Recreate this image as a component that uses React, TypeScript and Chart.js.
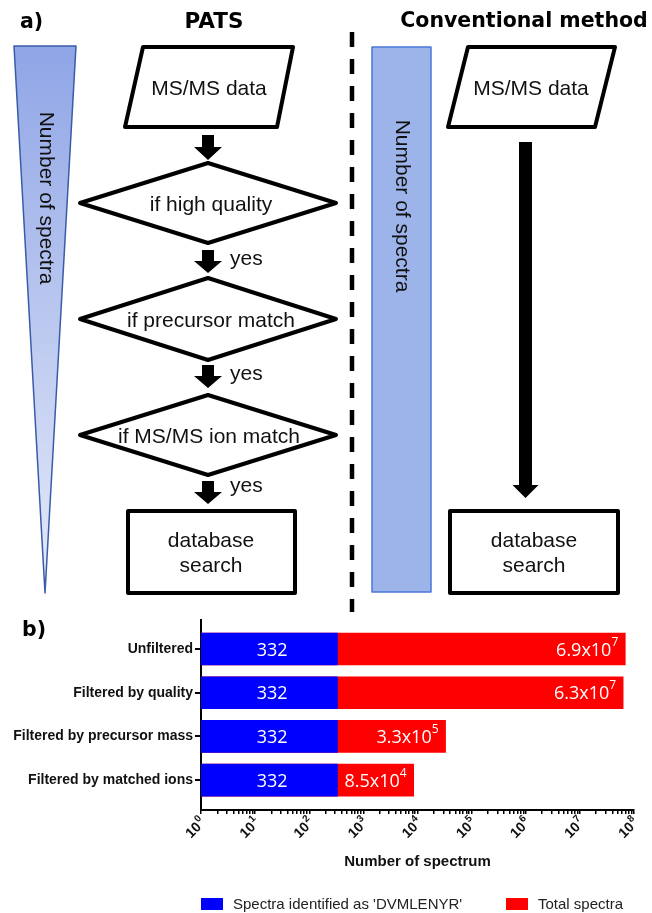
import React, { useEffect, useRef } from 'react';
import { Chart, registerables } from 'chart.js';

Chart.register(...registerables);

// ---------- data ----------
const categories = ['Unfiltered', 'Filtered by quality', 'Filtered by precursor mass', 'Filtered by matched ions'];
const identifiedSpectra = [332, 332, 332, 332];
const totalSpectra = [6.9e7, 6.3e7, 3.3e4, 8.5e3];
const identifiedLabels = ['332', '332', '332', '332'];
const totalMantissa = ['6.9', '6.3', '3.3', '8.5'];
const totalExponent = ['7', '7', '5', '4'];
const decadeExponents = [0, 1, 2, 3, 4, 5, 6, 7, 8];
const seriesNames = ["Spectra identified as 'DVMLENYR'", 'Total spectra'];
const seriesColors = ['#0000FF', '#FF0000'];
const xAxisTitle = 'Number of spectrum';

const SANS = '"Liberation Sans", Arial, sans-serif';
const HEAD = '"DejaVu Sans", sans-serif';
const LABEL = '"Open Sans", sans-serif';

// ---------- flowchart drawing helpers ----------
function poly(ctx: CanvasRenderingContext2D, pts: number[][], lw: number, stroke: string, fill?: string | CanvasGradient) {
  ctx.beginPath();
  ctx.moveTo(pts[0][0], pts[0][1]);
  for (let i = 1; i < pts.length; i++) ctx.lineTo(pts[i][0], pts[i][1]);
  ctx.closePath();
  if (fill) {
    ctx.fillStyle = fill;
    ctx.fill();
  }
  if (lw > 0) {
    ctx.lineWidth = lw;
    ctx.strokeStyle = stroke;
    ctx.stroke();
  }
}

function blockArrow(ctx: CanvasRenderingContext2D, cx: number, top: number, headStart: number, tip: number, shaftW: number, headW: number) {
  poly(ctx, [
    [cx - shaftW / 2, top], [cx + shaftW / 2, top], [cx + shaftW / 2, headStart],
    [cx + headW / 2, headStart], [cx, tip], [cx - headW / 2, headStart], [cx - shaftW / 2, headStart],
  ], 0, '#000', '#000');
}

function text(ctx: CanvasRenderingContext2D, s: string, x: number, y: number, font: string, align: CanvasTextAlign = 'center', color = '#111') {
  ctx.font = font;
  ctx.textAlign = align;
  ctx.textBaseline = 'alphabetic';
  ctx.fillStyle = color;
  ctx.fillText(s, x, y);
}

function rotatedText(ctx: CanvasRenderingContext2D, s: string, cx: number, cy: number, font: string) {
  ctx.save();
  ctx.translate(cx, cy);
  ctx.rotate(Math.PI / 2);
  ctx.font = font;
  ctx.textAlign = 'center';
  ctx.textBaseline = 'middle';
  ctx.fillStyle = '#111';
  ctx.fillText(s, 0, 0);
  ctx.restore();
}

function drawFlowchart(ctx: CanvasRenderingContext2D) {
  ctx.save();
  ctx.lineJoin = 'round';
  const body = `21px ${SANS}`;
  const head = `bold 20.5px ${HEAD}`;

  // panel labels and headers
  text(ctx, 'a)', 20, 28, head, 'left', '#000');
  text(ctx, 'b)', 22, 636, head, 'left', '#000');
  text(ctx, 'PATS', 214, 28, `bold 21.5px ${HEAD}`, 'center', '#000');
  text(ctx, 'Conventional method', 524, 27, head, 'center', '#000');

  // left tapering triangle
  const grad = ctx.createLinearGradient(0, 46, 0, 593);
  grad.addColorStop(0, '#8FA5E6');
  grad.addColorStop(1, '#E6EBF9');
  poly(ctx, [[14, 46], [76, 46], [45, 593]], 1.5, '#3A5BA8', grad);
  rotatedText(ctx, 'Number of spectra', 46, 198, body);

  // dashed separator
  ctx.save();
  ctx.setLineDash([15, 12]);
  ctx.lineWidth = 4.5;
  ctx.strokeStyle = '#000';
  ctx.lineCap = 'butt';
  ctx.beginPath();
  ctx.moveTo(352, 32);
  ctx.lineTo(352, 612);
  ctx.stroke();
  ctx.restore();

  // right rectangle
  poly(ctx, [[372, 47], [431, 47], [431, 592], [372, 592]], 1.5, '#4A78D8', '#9DB4EA');
  rotatedText(ctx, 'Number of spectra', 402, 206, body);

  // PATS column
  poly(ctx, [[143, 47], [293, 47], [277, 127], [125, 127]], 4, '#000', '#fff');
  text(ctx, 'MS/MS data', 209, 95, body);

  blockArrow(ctx, 208, 135, 147, 160, 12, 28);

  poly(ctx, [[80, 203], [208, 163], [336, 203], [208, 243]], 4, '#000', '#fff');
  text(ctx, 'if high quality', 211, 211, body);

  blockArrow(ctx, 208, 250, 261, 273, 12, 28);
  text(ctx, 'yes', 230, 265, body, 'left');

  poly(ctx, [[80, 319], [208, 278], [336, 319], [208, 360]], 4, '#000', '#fff');
  text(ctx, 'if precursor match', 211, 327, body);

  blockArrow(ctx, 208, 365, 376, 388, 12, 28);
  text(ctx, 'yes', 230, 380, body, 'left');

  poly(ctx, [[80, 435], [208, 395], [336, 435], [208, 475]], 4, '#000', '#fff');
  text(ctx, 'if MS/MS ion match', 209, 443, body);

  blockArrow(ctx, 208, 481, 492, 504, 12, 28);
  text(ctx, 'yes', 230, 492, body, 'left');

  poly(ctx, [[128, 511], [295, 511], [295, 593], [128, 593]], 4, '#000', '#fff');
  text(ctx, 'database', 211, 547, body);
  text(ctx, 'search', 211, 572, body);

  // Conventional column
  poly(ctx, [[468, 47], [615, 47], [595, 127], [448, 127]], 4, '#000', '#fff');
  text(ctx, 'MS/MS data', 531, 95, body);

  blockArrow(ctx, 525.5, 142, 485, 498, 13, 26);

  poly(ctx, [[450, 511], [618, 511], [618, 593], [450, 593]], 4, '#000', '#fff');
  text(ctx, 'database', 534, 547, body);
  text(ctx, 'search', 534, 572, body);

  ctx.restore();
}

const flowchartPlugin = {
  id: 'flowchart',
  afterDraw(chart: any) {
    drawFlowchart(chart.ctx);
  },
};

// decade tick labels "10^n" with real superscripts, positioned by the x scale
const xTickLabelPlugin = {
  id: 'xTickLabels',
  afterDraw(chart: any) {
    const ctx: CanvasRenderingContext2D = chart.ctx;
    const scale = chart.scales.x;
    ctx.save();
    ctx.fillStyle = '#111';
    ctx.textBaseline = 'alphabetic';
    decadeExponents.forEach((e) => {
      const px = scale.getPixelForValue(Math.pow(10, e));
      const ay = scale.top + 10;
      ctx.save();
      ctx.translate(px + 2, ay);
      ctx.rotate(-Math.PI / 4);
      ctx.font = `bold 10px ${SANS}`;
      const exp = String(e);
      const ew = ctx.measureText(exp).width;
      ctx.textAlign = 'right';
      ctx.fillText(exp, 0, -1.5);
      ctx.font = `bold 14px ${SANS}`;
      ctx.fillText('10', -ew - 0.5, 4.8);
      ctx.restore();
    });
    ctx.restore();
  },
};

const barLabelPlugin = {
  id: 'barLabels',
  afterDatasetsDraw(chart: any) {
    const ctx: CanvasRenderingContext2D = chart.ctx;
    ctx.save();
    const metaId = chart.getDatasetMeta(0);
    const metaTot = chart.getDatasetMeta(1);
    ctx.fillStyle = '#fff';
    ctx.textBaseline = 'alphabetic';
    metaId.data.forEach((bar: any, i: number) => {
      const { x, y, base } = bar.getProps(['x', 'y', 'base'], true);
      ctx.font = `18px ${LABEL}`;
      ctx.textAlign = 'center';
      ctx.fillText(identifiedLabels[i], (x + base) / 2 + 3, y + 6.5);
    });
    metaTot.data.forEach((bar: any, i: number) => {
      const { x, y } = bar.getProps(['x', 'y'], true);
      const main = `${totalMantissa[i]}x10`;
      const exp = totalExponent[i];
      ctx.font = `12px ${LABEL}`;
      const ew = ctx.measureText(exp).width;
      const right = x - 7;
      ctx.textAlign = 'left';
      ctx.fillText(exp, right - ew, y - 3.5);
      ctx.font = `18px ${LABEL}`;
      ctx.textAlign = 'right';
      ctx.fillText(main, right - ew, y + 6.5);
    });
    ctx.restore();
  },
};

const legendPlugin = {
  id: 'customLegend',
  afterDraw(chart: any) {
    const ctx: CanvasRenderingContext2D = chart.ctx;
    ctx.save();
    const xs = [201, 506];
    chart.data.datasets.forEach((ds: any, i: number) => {
      ctx.fillStyle = ds.backgroundColor;
      ctx.fillRect(xs[i], 898, 22, 12);
      ctx.fillStyle = '#222';
      ctx.font = `15px ${SANS}`;
      ctx.textAlign = 'left';
      ctx.textBaseline = 'middle';
      ctx.fillText(ds.label, xs[i] + 32, 904.5);
    });
    ctx.restore();
  },
};

export default function App() {
  const ref = useRef<HTMLCanvasElement | null>(null);

  useEffect(() => {
    document.body.style.margin = '0';
    const canvas = ref.current;
    if (!canvas) return;

    const xTicks: number[] = [];
    decadeExponents.forEach((e) => {
      if (e === decadeExponents[decadeExponents.length - 1]) {
        xTicks.push(Math.pow(10, e));
      } else {
        for (let m = 1; m <= 9; m++) xTicks.push(m * Math.pow(10, e));
      }
    });

    const chart = new Chart(canvas, {
      type: 'bar',
      data: {
        datasets: [
          {
            label: seriesNames[0],
            data: categories.map((_, i) => ({ x: identifiedSpectra[i], y: i })) as any,
            backgroundColor: seriesColors[0],
            grouped: false,
            barThickness: 32,
          } as any,
          {
            label: seriesNames[1],
            data: categories.map((_, i) => ({ x: totalSpectra[i], y: i })) as any,
            backgroundColor: seriesColors[1],
            grouped: false,
            barThickness: 32,
          } as any,
        ],
      },
      options: {
        indexAxis: 'y',
        responsive: false,
        animation: false,
        events: [],
        layout: { padding: { top: 620, right: 18, left: 0, bottom: 0 } },
        plugins: {
          legend: { display: false },
          tooltip: { enabled: false },
        },
        scales: {
          y: {
            type: 'linear',
            reverse: true,
            offset: false,
            bounds: 'data',
            min: -0.664,
            max: 3.684,
            afterBuildTicks: (scale: any) => {
              scale.ticks = categories.map((_, i) => ({ value: i }));
            },
            afterFit: (scale: any) => {
              scale.width = 201;
            },
            ticks: {
              autoSkip: false,
              padding: 2,
              color: '#111',
              font: { family: SANS, size: 14, weight: 'bold' },
              callback: (v: any) => categories[v as number] ?? '',
            },
            grid: {
              display: true,
              offset: false,
              drawOnChartArea: false,
              drawTicks: true,
              tickLength: 6,
              color: '#000',
              lineWidth: 2,
            },
            border: { display: true, color: '#000', width: 2 },
          },
          x: {
            type: 'logarithmic',
            min: 1,
            max: 1e8,
            afterBuildTicks: (scale: any) => {
              scale.ticks = xTicks.map((v) => ({ value: v }));
            },
            afterFit: (scale: any) => {
              scale.height = 103;
            },
            ticks: {
              autoSkip: false,
              minRotation: 45,
              maxRotation: 45,
              padding: 2,
              callback: () => '',
            },
            grid: {
              display: true,
              offset: false,
              drawOnChartArea: false,
              drawTicks: true,
              tickLength: 4,
              color: '#000',
              lineWidth: 1.5,
            },
            border: { display: true, color: '#000', width: 2 },
            title: {
              display: true,
              text: xAxisTitle,
              color: '#111',
              font: { family: SANS, size: 15, weight: 'bold' },
              padding: { top: 0, bottom: 42 },
            },
          },
        },
      } as any,
      plugins: [barLabelPlugin, xTickLabelPlugin, legendPlugin, flowchartPlugin],
    });

    return () => chart.destroy();
  }, []);

  return (
    <div style={{ width: 652, height: 913, position: 'relative', background: '#fff' }}>
      <canvas ref={ref} width={652} height={913} style={{ display: 'block', width: 652, height: 913 }} />
    </div>
  );
}
